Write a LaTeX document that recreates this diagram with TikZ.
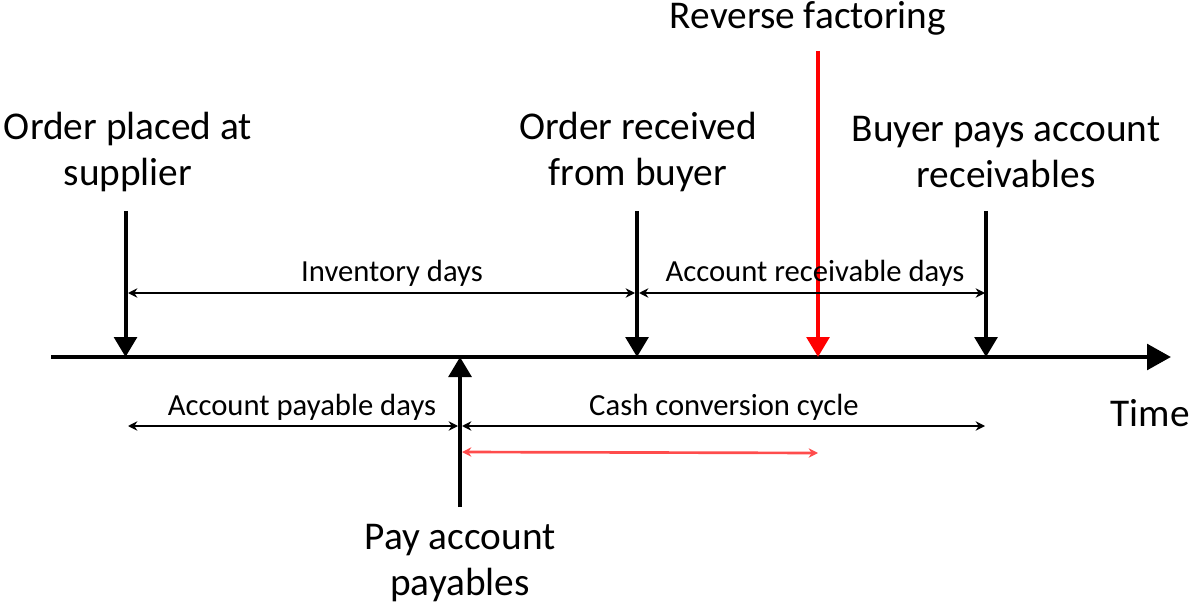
\documentclass[tikz,border=0pt]{standalone}
\usepackage{fontspec}
\setmainfont{Carlito}
\usetikzlibrary{arrows.meta}
\begin{document}
\begin{tikzpicture}[x=0.75pt,y=-0.75pt,
  big/.style={line width=3pt,-{Triangle[width=17pt,length=15pt]}},
  thin/.style={line width=1.2pt,{Stealth[width=7pt,length=7pt]}-{Stealth[width=7pt,length=7pt]}},
  lbl/.style={font=\fontsize{29.5}{34}\selectfont,align=center,inner sep=0pt},
  small/.style={font=\fontsize{23}{26}\selectfont,inner sep=0pt}]
\useasboundingbox (0,0) rectangle (1189,606);
% timeline
\coordinate (t0) at (51,357);
\coordinate (t1) at (1171,357);
\draw[line width=3.5pt,-{Triangle[width=19pt,length=18pt]}] (t0) -- (t1);
% event coordinates
\coordinate (a1) at (125.5,211);
\coordinate (b1) at (125.5,357);
\coordinate (a2) at (637,211);
\coordinate (b2) at (637,357);
\coordinate (a3) at (986,211);
\coordinate (b3) at (986,357);
\coordinate (rf0) at (818,51);
\coordinate (rf1) at (818,357);
\coordinate (p0) at (460,507);
\coordinate (p1) at (460,357);
\draw[big] (a1) -- (b1);
\draw[big] (a2) -- (b2);
\draw[big] (a3) -- (b3);
\draw[big,red] (rf0) -- (rf1);
\draw[big] (p0) -- (p1);
% labels
\node[lbl] (l1) at (128,152) {Order placed at\\supplier};
\node[lbl] (l2) at (638,152) {Order received\\from buyer};
\node[lbl] (l3) at (1006,152) {Buyer pays account\\receivables};
\node[lbl] (l4) at (808,18) {Reverse factoring};
\node[lbl] (l5) at (460,563) {Pay account\\payables};
\node[lbl] (l6) at (1150,413) {Time};
% spans
\coordinate (i0) at (128,293);
\coordinate (i1) at (635,293);
\coordinate (r0) at (639,293);
\coordinate (r1) at (985,293);
\coordinate (ap0) at (128,426);
\coordinate (ap1) at (458,426);
\coordinate (cc0) at (462,426);
\coordinate (cc1) at (985,426);
\coordinate (rr0) at (462,452);
\coordinate (rr1) at (818,453);
\draw[thin] (i0) -- (i1);
\draw[thin] (r0) -- (r1);
\draw[thin] (ap0) -- (ap1);
\draw[thin] (cc0) -- (cc1);
\draw[thin,line width=2pt,red!70] (rr0) -- (rr1);
\node[small] (s1) at (392,273) {Inventory days};
\node[small] (s2) at (815,273) {Account receivable days};
\node[small] (s3) at (302,407) {Account payable days};
\node[small] (s4) at (724,407) {Cash conversion cycle};
\end{tikzpicture}
\end{document}
